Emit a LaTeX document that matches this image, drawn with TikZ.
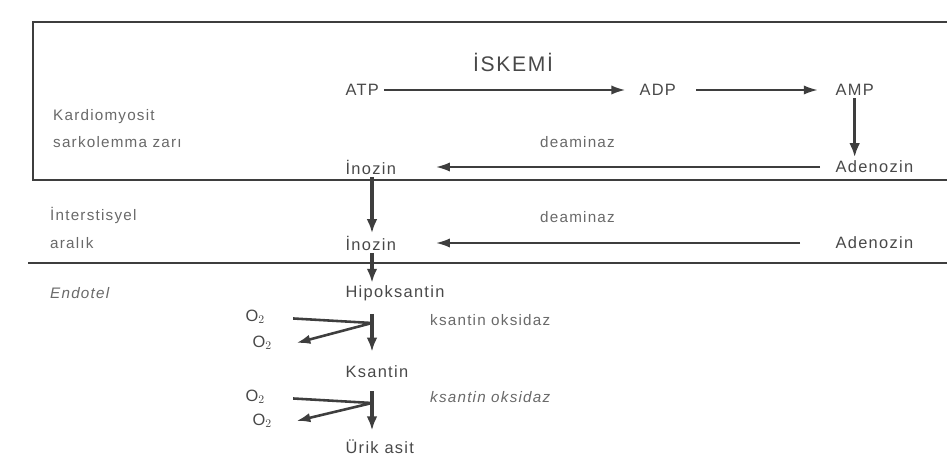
\documentclass[tikz,border=0pt]{standalone}
\usepackage{fontspec}
\setmainfont{Liberation Sans}[LetterSpace=8]
\usetikzlibrary{positioning,arrows.meta,calc}
\definecolor{inkgray}{RGB}{62,62,62}
\definecolor{txtgray}{RGB}{72,72,72}
\definecolor{sidegray}{RGB}{105,105,105}
\tikzset{
  lbl/.style={anchor=west, inner sep=2pt, text=txtgray, font=\fontsize{14}{16}\selectfont},
  sidelbl/.style={anchor=west, inner sep=0pt, text=sidegray, font=\fontsize{13}{15}\selectfont},
  arrow/.style={-{Latex[length=4.2mm,width=2.8mm]}, line width=1.7pt, inkgray},
  vbarrow/.style={-{Latex[length=4.2mm,width=3.2mm]}, line width=2.8pt, inkgray},
  oxline/.style={line width=2.2pt, inkgray},
  wall/.style={line width=2.2pt, inkgray}
}

\begin{document}
\begin{tikzpicture}[x=0.03cm, y=-0.03cm]
  \useasboundingbox (0,0) rectangle (947,458);
  % zarlar
  \draw[wall] (947,22) -- (33,22) -- (33,180) -- (947,180);
  \draw[wall] (28,263) -- (947,263);

  % kardiyomiyosit
  \node[text=txtgray, font=\fontsize{18}{20}\selectfont] (iskemi) at (513,62) {İSKEMİ};
  \node[lbl] (atp) at (343,90) {ATP};
  \node[lbl] (adp) at (637,90) {ADP};
  \node[lbl] (amp) at (833,90) {AMP};
  \node[lbl] (adenozinA) at (833,167) {Adenozin};
  \node[lbl] (inozinA) at (343,167) {İnozin};
  \node[sidelbl] (deamA) at (540,142) {deaminaz};
  \node[sidelbl] (kardio) at (53,117) {Kardiomyosit};
  \node[sidelbl] (sarko) at (53,142) {sarkolemma zarı};

  % interstisyel aralik
  \node[sidelbl] (inter) at (50,215) {İnterstisyel};
  \node[sidelbl] (aralik) at (50,243) {aralık};
  \node[lbl] (inozinB) at (343,243) {İnozin};
  \node[sidelbl] (deamB) at (540,217) {deaminaz};
  \node[lbl] (adenozinB) at (833,243) {Adenozin};

  % endotel
  \node[sidelbl, font=\fontsize{13}{15}\selectfont\itshape] (endotel) at (50,293) {Endotel};
  \node[lbl] (hipo) at (343,293) {Hipoksantin};
  \node[lbl] (ksantin) at (343,372) {Ksantin};
  \node[lbl] (urik) at (343,447) {Ürik asit};
  \node[lbl] (oxA1) at (243,317) {O$_2$};
  \node[lbl] (oxA2) at (250,343) {O$_2$};
  \node[lbl] (oxB1) at (243,397) {O$_2$};
  \node[lbl] (oxB2) at (250,421) {O$_2$};
  \node[sidelbl] (xoA) at (430,320) {ksantin oksidaz};
  \node[sidelbl, font=\fontsize{13}{15}\selectfont\itshape] (xoB) at (430,397) {ksantin oksidaz};
  \coordinate (jA) at (372,323);
  \coordinate (jB) at (372,403);

  \draw[arrow, shorten <=2pt, shorten >=10pt] (atp) -- (adp);
  \draw[arrow, shorten <=15pt, shorten >=13pt] (adp) -- (amp);
  \draw[vbarrow, shorten >=1pt] (amp.south) -- (amp.south |- adenozinA.north);
  \draw[arrow, shorten <=11pt, shorten >=32pt] (adenozinA) -- (inozinA);
  \draw[arrow, shorten <=28pt, shorten >=32pt] (adenozinB) -- (inozinB);
  \draw[vbarrow] (inozinA.south -| jA) -- (inozinB.north -| jA);
  \draw[vbarrow] (inozinB.south -| jA) -- (hipo.north -| jA);

  % ksantin oksidaz basamaklari
  \draw[vbarrow, shorten <=9pt, shorten >=10pt] (hipo.south -| jA) -- (ksantin.north -| jA);
  \draw[oxline, shorten <=22pt] (oxA1.east) -- (jA);
  \draw[arrow, line width=2.2pt] (jA) -- ($(oxA2.east)+(22,0)$);
  \draw[vbarrow, shorten <=9pt, shorten >=6pt] (ksantin.south -| jB) -- (urik.north -| jB);
  \draw[oxline, shorten <=22pt] (oxB1.east) -- (jB);
  \draw[arrow, line width=2.2pt] (jB) -- ($(oxB2.east)+(22,0)$);
\end{tikzpicture}
\end{document}
